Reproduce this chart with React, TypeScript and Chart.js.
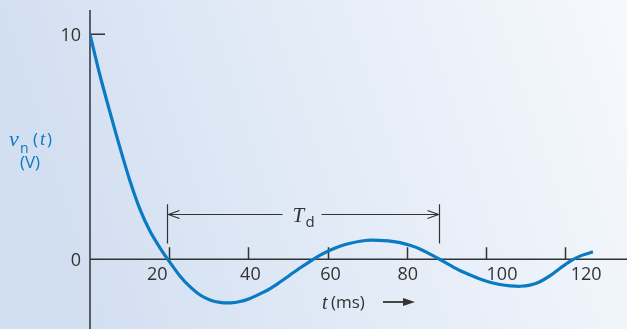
import React, { useEffect, useRef } from 'react';
import { Chart, registerables } from 'chart.js';

Chart.register(...registerables);

// ---- data ----
const timeMs = [
  0, 2.5, 5.1, 7.6, 10.1, 12.6, 15.2, 17.7, 20.2, 22.7, 25.3, 27.8, 30.3, 32.8, 35.4, 37.9,
  40.4, 42.9, 45.5, 48.0, 50.5, 53.0, 55.6, 58.1, 60.6, 63.1, 65.7, 68.2, 70.7, 73.2, 75.8,
  78.3, 80.8, 83.3, 85.9, 88.4, 90.9, 93.4, 96.0, 98.5, 101.0, 103.5, 106.1, 108.6, 111.1,
  113.6, 116.2, 118.7, 121.2, 123.7, 126.3, 127.0,
];
const voltage = [
  10.0, 8.19, 6.5, 4.94, 3.48, 2.23, 1.23, 0.5, -0.14, -0.74, -1.23, -1.59, -1.81, -1.92, -1.94, -1.88,
  -1.74, -1.54, -1.3, -1.01, -0.7, -0.39, -0.09, 0.18, 0.4, 0.58, 0.71, 0.8, 0.85, 0.84, 0.81,
  0.74, 0.62, 0.46, 0.23, -0.01, -0.26, -0.5, -0.7, -0.88, -1.02, -1.12, -1.18, -1.2, -1.15,
  -1.0, -0.73, -0.4, -0.09, 0.14, 0.29, 0.33,
];

const xTickValues = [20, 40, 60, 80, 100, 120];
const xTickLabels = ['20', '40', '60', '80', '100', '120'];
const yTickValues = [0, 10];
const yTickLabels = ['0', '10'];

// T_d annotation (ms / volts)
const tdSpan = [19.5, 88.1];
const tdLevel = 2.0;
const tdBracket = [0.7, 2.45];

const X_MIN = 0;
const X_MAX = 135.6;
const Y_MIN = -3.1;
const Y_MAX = 11.08;

const BLUE = '#0a7ac2';
const INK = '#333333';

export default function App() {
  const canvasRef = useRef<HTMLCanvasElement | null>(null);

  useEffect(() => {
    const canvas = canvasRef.current;
    if (!canvas) return;

    const points = timeMs.map((t, i) => ({ x: t, y: voltage[i] }));
    const labelNudge = [-12, 2, 3, 1, 16, 21];

    const axesPlugin = {
      id: 'customAxes',
      beforeDatasetsDraw(chart: any) {
        const { ctx, chartArea, scales } = chart;
        const xs = scales.x;
        const ys = scales.y;
        const x0 = xs.getPixelForValue(0);
        const y0 = ys.getPixelForValue(0);
        ctx.save();
        ctx.strokeStyle = INK;
        ctx.lineWidth = 1.5;
        ctx.beginPath();
        ctx.moveTo(x0, chartArea.top);
        ctx.lineTo(x0, chartArea.bottom);
        ctx.moveTo(x0, y0);
        ctx.lineTo(chartArea.right, y0);
        xTickValues.forEach((v) => {
          const px = Math.round(xs.getPixelForValue(v)) + 0.5;
          ctx.moveTo(px, y0 - 12);
          ctx.lineTo(px, y0);
        });
        yTickValues.forEach((v) => {
          if (v === 0) return;
          const py = ys.getPixelForValue(v);
          ctx.moveTo(x0, py);
          ctx.lineTo(x0 + 15, py);
        });
        ctx.stroke();
        ctx.restore();
      },
      afterDraw(chart: any) {
        const { ctx, scales } = chart;
        const xs = scales.x;
        const ys = scales.y;
        const x0 = xs.getPixelForValue(0);
        const y0 = ys.getPixelForValue(0);
        ctx.save();
        ctx.fillStyle = INK;
        ctx.font = '18px "Open Sans", sans-serif';
        ctx.textBaseline = 'middle';
        ctx.textAlign = 'center';
        xTickValues.forEach((v, i) => {
          ctx.fillText(xTickLabels[i], xs.getPixelForValue(v) + labelNudge[i], y0 + 16);
        });
        ctx.textAlign = 'right';
        yTickValues.forEach((v, i) => {
          ctx.fillText(yTickLabels[i], x0 - 9, ys.getPixelForValue(v) + 1.5);
        });

        // T_d annotation
        const xa = Math.round(xs.getPixelForValue(tdSpan[0])) + 0.5;
        const xb = Math.round(xs.getPixelForValue(tdSpan[1])) + 0.5;
        const ya = Math.round(ys.getPixelForValue(tdLevel)) + 0.5;
        const yTop = ys.getPixelForValue(tdBracket[1]);
        const yBot = ys.getPixelForValue(tdBracket[0]);
        const mid = (xa + xb) / 2;
        ctx.strokeStyle = INK;
        ctx.lineWidth = 1.2;
        ctx.beginPath();
        ctx.moveTo(xa, yTop);
        ctx.lineTo(xa, yBot);
        ctx.moveTo(xb, yTop);
        ctx.lineTo(xb, yBot);
        ctx.moveTo(xa, ya);
        ctx.lineTo(mid - 21, ya);
        ctx.moveTo(mid + 18, ya);
        ctx.lineTo(xb, ya);
        ctx.moveTo(xa + 12, ya - 4);
        ctx.lineTo(xa + 1, ya);
        ctx.lineTo(xa + 12, ya + 4);
        ctx.moveTo(xb - 12, ya - 4);
        ctx.lineTo(xb - 1, ya);
        ctx.lineTo(xb - 12, ya + 4);
        ctx.stroke();

        ctx.fillStyle = INK;
        ctx.textAlign = 'left';
        ctx.textBaseline = 'alphabetic';
        ctx.font = 'italic 21px "Liberation Serif", serif';
        ctx.fillText('T', mid - 11, ya + 7);
        ctx.font = '15px "Open Sans", sans-serif';
        ctx.fillText('d', mid + 2, ya + 12);

        // x-axis title: t (ms) ->
        ctx.font = 'italic 20px "Liberation Serif", serif';
        ctx.fillText('t', 322, 309);
        ctx.font = '17px "Open Sans", sans-serif';
        ctx.fillText('(ms)', 331, 308);
        ctx.lineWidth = 1.8;
        ctx.beginPath();
        ctx.moveTo(383, 302);
        ctx.lineTo(406, 302);
        ctx.stroke();
        ctx.beginPath();
        ctx.moveTo(415, 302);
        ctx.lineTo(403, 298);
        ctx.lineTo(403, 306);
        ctx.closePath();
        ctx.fill();

        // y-axis title: v_n (t) / (V)
        ctx.fillStyle = BLUE;
        ctx.font = 'italic 22px "Liberation Serif", serif';
        ctx.fillText('v', 9, 146);
        ctx.font = '14px "Open Sans", sans-serif';
        ctx.fillText('n', 20, 153);
        ctx.font = '17px "Open Sans", sans-serif';
        ctx.fillText('(', 33, 145);
        ctx.fillText(')', 47, 145);
        ctx.font = 'italic 19px "Liberation Serif", serif';
        ctx.fillText('t', 40, 145);
        ctx.font = '17px "Open Sans", sans-serif';
        ctx.textAlign = 'center';
        ctx.fillText('(V)', 30, 168);
        ctx.restore();
      },
    };

    const chart = new Chart(canvas, {
      type: 'line',
      data: {
        datasets: [
          {
            data: points,
            borderColor: BLUE,
            borderWidth: 3.2,
            pointRadius: 0,
            fill: false,
            tension: 0.3,
          },
        ],
      },
      options: {
        responsive: false,
        animation: false,
        devicePixelRatio: 1,
        layout: { padding: { left: 90, top: 10, right: 0, bottom: 0 } },
        plugins: { legend: { display: false }, tooltip: { enabled: false } },
        scales: {
          x: { type: 'linear', min: X_MIN, max: X_MAX, display: false },
          y: { type: 'linear', min: Y_MIN, max: Y_MAX, display: false },
        },
      },
      plugins: [axesPlugin],
    } as any);

    return () => chart.destroy();
  }, []);

  return (
    <div
      style={{
        position: 'fixed',
        left: 0,
        top: 0,
        width: 627,
        height: 329,
        background: 'linear-gradient(72deg, #d2dff1 12%, #e4ecf7 55%, #f6f9fd 100%)',
      }}
    >
      <canvas ref={canvasRef} width={627} height={329} style={{ display: 'block' }} />
    </div>
  );
}
